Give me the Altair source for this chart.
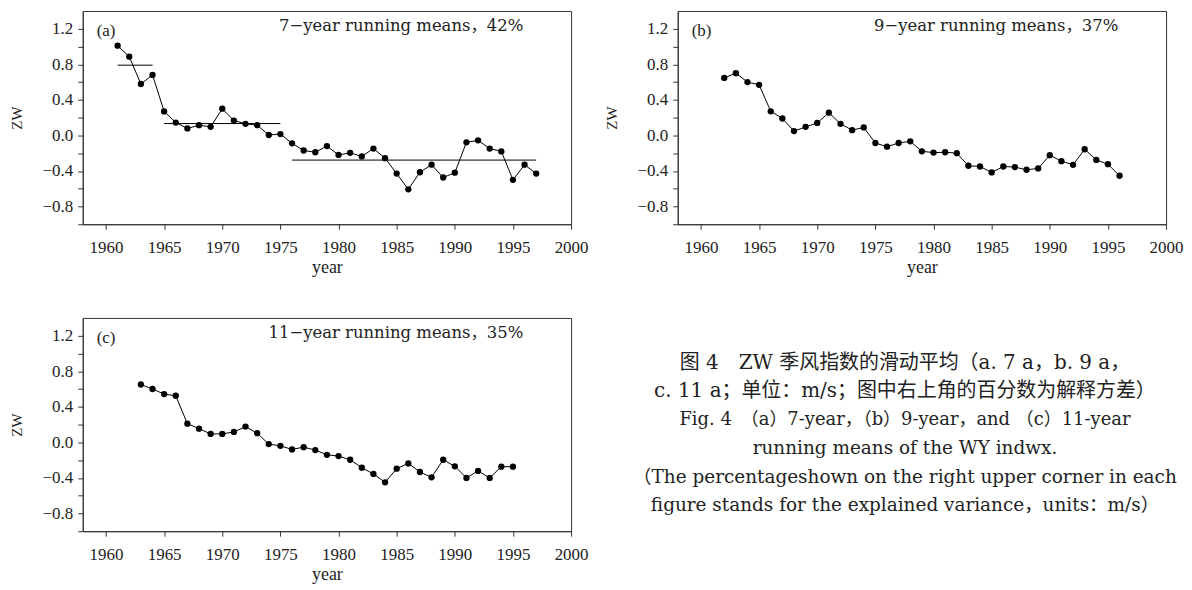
import altair as alt
import pandas as pd

# ---------------- data ----------------
years_a = list(range(1961, 1998))
vals_a = [1.01, 0.886, 0.578, 0.68, 0.27, 0.144, 0.078, 0.115, 0.096, 0.30,
          0.167, 0.13, 0.115, 0.004, 0.015, -0.089, -0.17, -0.19, -0.12, -0.22,
          -0.196, -0.237, -0.148, -0.256, -0.43, -0.607, -0.415, -0.33, -0.474,
          -0.42, -0.078, -0.056, -0.148, -0.18, -0.50, -0.33, -0.43]

years_b = list(range(1962, 1997))
vals_b = [0.647, 0.70, 0.60, 0.569, 0.271, 0.19, 0.048, 0.096, 0.14, 0.256,
          0.13, 0.059, 0.089, -0.086, -0.127, -0.086, -0.067, -0.179, -0.194,
          -0.19, -0.2, -0.342, -0.35, -0.417, -0.35, -0.357, -0.387, -0.372,
          -0.223, -0.29, -0.331, -0.156, -0.276, -0.324, -0.454]

years_c = list(range(1963, 1996))
vals_c = [0.651, 0.60, 0.543, 0.524, 0.21, 0.154, 0.095, 0.095, 0.117, 0.177,
          0.103, -0.02, -0.039, -0.08, -0.054, -0.087, -0.14, -0.155, -0.196,
          -0.285, -0.356, -0.45, -0.296, -0.237, -0.334, -0.394, -0.196, -0.27,
          -0.40, -0.322, -0.40, -0.274, -0.274]

# mean levels of sub-periods in panel (a)
seg_start = [1961, 1965, 1976]
seg_end = [1964, 1975, 1997]
seg_level = [0.79, 0.133, -0.278]

tags = ["(a)", "(b)", "(c)"]
labels = ["7\u2212year running means\uff0c42%",
          "9\u2212year running means\uff0c37%",
          "11\u2212year running means\uff0c35%"]

x_ticks = [1960, 1965, 1970, 1975, 1980, 1985, 1990, 1995, 2000]
y_ticks = [-1.0, -0.8, -0.6, -0.4, -0.2, 0.0, 0.2, 0.4, 0.6, 0.8, 1.0, 1.2]

caption_lines = [
    "图 4\u3000ZW 季风指数的滑动平均（a. 7 a，b. 9 a，",
    "c. 11 a；单位：m/s；图中右上角的百分数为解释方差）",
    "Fig. 4\u3000（a）7-year，（b）9-year，and （c）11-year",
    "running means of the WY indwx.",
    "（The percentageshown on the right upper corner in each",
    "figure stands for the explained variance，units：m/s）",
]
caption_size = [20, 20, 18, 18.5, 18.5, 18.5]

SERIF = "Liberation Serif"
WIDE = "DejaVu Serif, Noto Sans CJK SC"
W, H = 490, 214


def panel(years, vals, tag, label, segs=None):
    df = pd.DataFrame({"year": years, "zw": vals})
    x = alt.X("year:Q",
              scale=alt.Scale(domain=[1958, 2000], nice=False, zero=False),
              axis=alt.Axis(values=x_ticks, format="d", title="year"))
    y = alt.Y("zw:Q",
              scale=alt.Scale(domain=[-1.0, 1.4], nice=False, zero=False),
              axis=alt.Axis(values=y_ticks, title="ZW",
                            labelExpr="(abs(round(datum.value*10)) % 4 == 0 && datum.value > -0.95) ? format(datum.value, '.1f') : ''"))
    base = alt.Chart(df)
    line = base.mark_line(color="black", strokeWidth=1).encode(x=x, y=y)
    pts = base.mark_circle(color="black", size=40, opacity=1).encode(x=x, y=y)
    layers = [line, pts]
    if segs is not None:
        sdf = pd.DataFrame({"year": segs[0], "end": segs[1], "zw": segs[2]})
        layers.append(alt.Chart(sdf).mark_rule(color="black", strokeWidth=1)
                      .encode(x=x, x2="end:Q", y=y))
    tdf = pd.DataFrame({"year": [1959.2], "zw": [1.17], "t": [tag]})
    layers.append(alt.Chart(tdf).mark_text(font=SERIF, fontSize=17, align="left",
                                           baseline="middle", color="#222")
                  .encode(x=x, y=y, text="t:N"))
    ldf = pd.DataFrame({"year": [1995.9], "zw": [1.235], "t": [label]})
    layers.append(alt.Chart(ldf).mark_text(font=WIDE, fontSize=16.5, align="right",
                                           baseline="middle", color="#222")
                  .encode(x=x, y=y, text="t:N"))
    return alt.layer(*layers).properties(width=W, height=H)


pa = panel(years_a, vals_a, tags[0], labels[0], (seg_start, seg_end, seg_level))
pb = panel(years_b, vals_b, tags[1], labels[1])
pc = panel(years_c, vals_c, tags[2], labels[2])

cdf = pd.DataFrame({"row": list(range(len(caption_lines))),
                    "t": caption_lines, "s": caption_size})
cap = alt.Chart(cdf).mark_text(font=WIDE, align="center", baseline="middle",
                               color="#222").encode(
    x=alt.value(228),
    y=alt.Y("row:Q", axis=None,
            scale=alt.Scale(domain=[-1.57, 5.9], reverse=True, nice=False, zero=False)),
    text="t:N",
    size=alt.Size("s:Q", scale=None, legend=None),
).properties(width=W, height=H, view=alt.ViewBackground(strokeWidth=0))

chart = alt.concat(pa, pb, pc, cap, columns=2,
                   spacing={"row": 94, "column": 107},
                   bounds="flush").properties(
    padding={"left": 0, "top": 1, "right": 0, "bottom": 0}
).configure_view(stroke="#333", strokeWidth=1).configure_axis(
    grid=False, labelFont=SERIF, labelFontSize=17, labelColor="#222",
    titleFont=SERIF, titleFontWeight="normal", titleColor="#222",
    domainColor="#333", tickColor="#333", tickSize=5,
).configure_axisX(labelPadding=10, titleFontSize=18, titlePadding=3,
                  labelFlush=False, labelOverlap=False).configure_axisY(
    labelPadding=5, titleFontSize=15, titlePadding=18)

chart.save("out.html", embed_options={"renderer": "svg", "actions": False})
